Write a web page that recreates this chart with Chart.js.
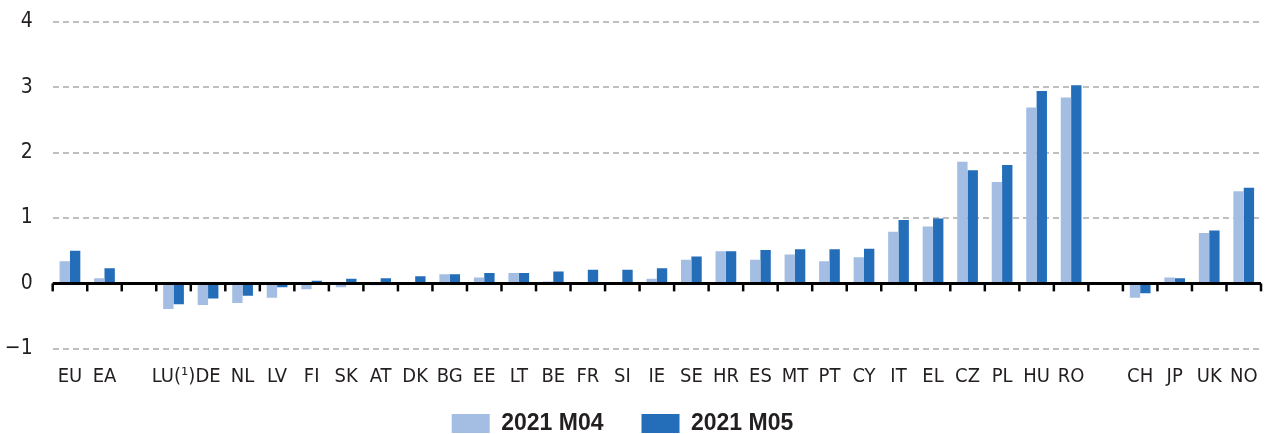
<!DOCTYPE html>
<html>
<head>
<meta charset="utf-8">
<script src="https://cdn.jsdelivr.net/npm/chart.js@4/dist/chart.umd.min.js"></script>
<style>
html,body{margin:0;padding:0;background:#fff;}
#wrap{width:1271px;height:434px;}
</style>
</head>
<body>
<div id="wrap"><canvas id="c" width="1271" height="434"></canvas></div>
<script>
const categories = ['EU','EA','','LU(\u00B9)','DE','NL','LV','FI','SK','AT','DK','BG','EE','LT','BE','FR','SI','IE','SE','HR','ES','MT','PT','CY','IT','EL','CZ','PL','HU','RO','','CH','JP','UK','NO'];
const seriesNames = ['2021 M04','2021 M05'];
const m04 = [0.34,0.08,null,-0.39,-0.33,-0.30,-0.22,-0.09,-0.06,-0.03,0.00,0.14,0.09,0.16,0.03,0.00,0.00,0.07,0.36,0.49,0.36,0.44,0.34,0.40,0.79,0.87,1.86,1.55,2.69,2.84,null,-0.22,0.09,0.77,1.41];
const m05 = [0.50,0.23,null,-0.32,-0.23,-0.19,-0.06,0.04,0.07,0.08,0.11,0.14,0.16,0.16,0.18,0.21,0.21,0.23,0.41,0.49,0.51,0.52,0.52,0.53,0.97,0.99,1.73,1.81,2.94,3.03,null,-0.15,0.08,0.81,1.46];
const yTicks = [-1,0,1,2,3,4];

const TEXT = '#231f20';
const LIGHT = '#a4bde2';
const DARK = '#246db8';
const FONT = "'Liberation Sans Narrow','DejaVu Sans Condensed','Liberation Sans',sans-serif";

const zeroAxis = {
  id: 'zeroAxis',
  afterLayout(chart) {
    if (chart.legend) { chart.legend.left -= 8; chart.legend.right -= 8; }
  },
  afterDatasetsDraw(chart) {
    const {ctx, chartArea, scales} = chart;
    const x = scales.x, y = scales.y;
    const y0 = y.getPixelForValue(0);
    ctx.save();
    ctx.strokeStyle = '#000';
    ctx.lineWidth = 2.5;
    for (let i = 0; i <= categories.length; i++) {
      const px = x.getPixelForValue(i - 0.5);
      ctx.beginPath();
      ctx.moveTo(px, y0);
      ctx.lineTo(px, y0 + 8);
      ctx.stroke();
    }
    ctx.lineWidth = 3;
    ctx.beginPath();
    ctx.moveTo(chartArea.left, y0);
    ctx.lineTo(chartArea.right, y0);
    ctx.stroke();
    ctx.restore();
  }
};

new Chart(document.getElementById('c'), {
  type: 'bar',
  data: {
    labels: categories,
    datasets: [
      {label: seriesNames[0], data: m04, backgroundColor: LIGHT, borderWidth: 0},
      {label: seriesNames[1], data: m05, backgroundColor: DARK, borderWidth: 0}
    ]
  },
  options: {
    responsive: false,
    animation: false,
    devicePixelRatio: 1,
    layout: {padding: {top: 21.7, right: 10, left: 0, bottom: 0}},
    datasets: {bar: {categoryPercentage: 0.6, barPercentage: 1.0}},
    plugins: {
      tooltip: {enabled: false},
      legend: {
        position: 'bottom',
        maxHeight: 60,
        labels: {
          boxWidth: 38,
          boxHeight: 19,
          padding: 38,
          color: TEXT,
          font: {family: "'Liberation Sans',Arial,sans-serif", size: 23, weight: 'bold'}
        }
      }
    },
    scales: {
      x: {
        grid: {display: false},
        border: {display: false},
        ticks: {
          color: TEXT,
          font: {family: FONT, size: 20},
          mirror: true,
          padding: -40,
          maxRotation: 0,
          autoSkip: false
        },
        afterFit(scale) { scale.height = 25.2; }
      },
      y: {
        min: -1,
        max: 4,
        afterBuildTicks(scale) { scale.ticks = yTicks.map(v => ({value: v})); },
        grid: {
          color: (c) => c.tick && c.tick.value === 0 ? 'rgba(0,0,0,0)' : '#bfbfbf',
          lineWidth: 2,
          drawTicks: false
        },
        border: {display: false, dash: [6, 4]},
        ticks: {
          color: TEXT,
          font: {family: FONT, size: 21},
          padding: 20,
          callback: (v) => v < 0 ? '\u2212' + Math.abs(v) : String(v)
        },
        afterFit(scale) {
          scale.width = 52.7;
          scale.paddingTop = 0;
          scale.paddingBottom = 0;
        }
      }
    }
  },
  plugins: [zeroAxis]
});
</script>
</body>
</html>
